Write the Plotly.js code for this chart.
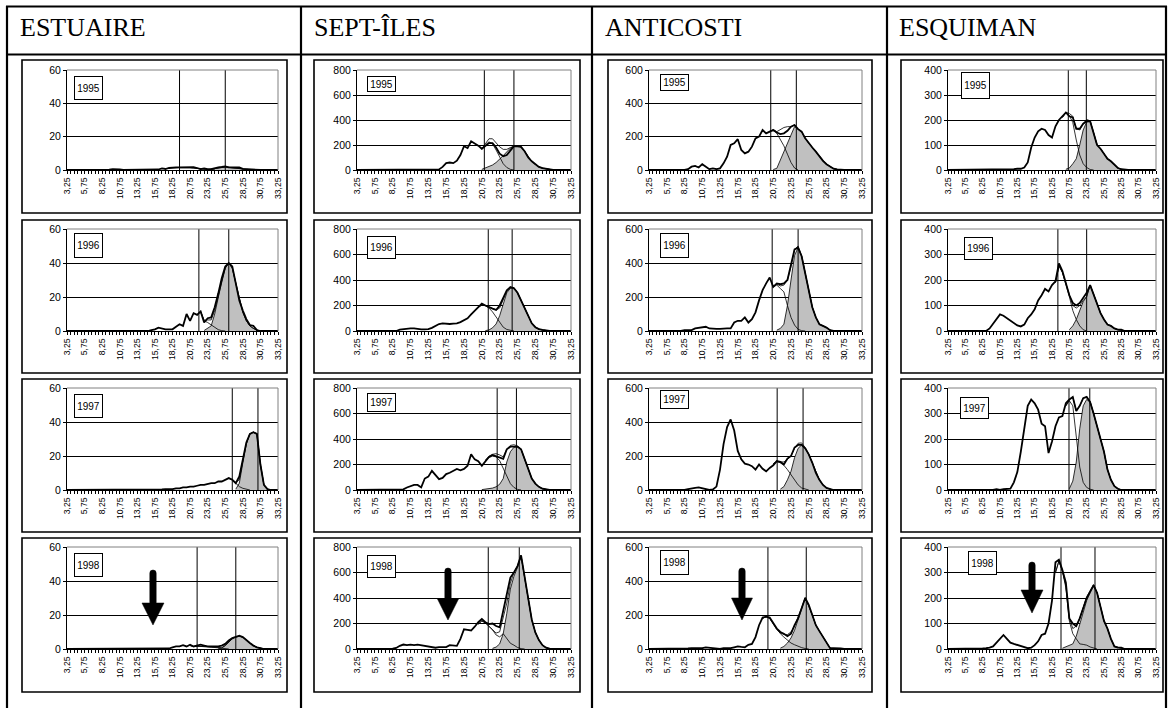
<!DOCTYPE html>
<html><head><meta charset="utf-8">
<script src="https://cdn.plot.ly/plotly-3.0.1.min.js"></script>
<style>html,body{margin:0;padding:0;background:#fff}#chart{width:1169px;height:708px}</style>
</head><body><div id="chart"></div>
<script>
// ---------- DATA ----------
const SIZE = [3.25,3.75,4.25,4.75,5.25,5.75,6.25,6.75,7.25,7.75,8.25,8.75,9.25,9.75,10.25,10.75,11.25,11.75,12.25,12.75,
  13.25,13.75,14.25,14.75,15.25,15.75,16.25,16.75,17.25,17.75,18.25,18.75,19.25,19.75,20.25,20.75,21.25,21.75,22.25,22.75,
  23.25,23.75,24.25,24.75,25.25,25.75,26.25,26.75,27.25,27.75,28.25,28.75,29.25,29.75,30.25,30.75,31.25,31.75,32.25,32.75,33.25];
const TICK_LABELS = ['3,25','5,75','8,25','10,75','13,25','15,75','18,25','20,75','23,25','25,75','28,25','30,75','33,25'];
const REGIONS = ['ESTUAIRE','SEPT-ÎLES','ANTICOSTI','ESQUIMAN'];
const YEARS = ['1995','1996','1997','1998'];
const Y_MAX = [60, 800, 600, 400];
const Y_STEP = [20, 200, 200, 100];

// observed totals (one value per SIZE class)
const est95 = [0,0,0,0,0,0,0,0,0,0, 0,0,0.2,0.5,0.5,0.3,0,0,0,0, 0,0,0,0,0,0,0.3,1,0.6,1.2, 1.5,1.5,1.6,1.6,1.6,1.6,1.7,1.2,0.5,1, 0.5,0.5,1.2,1.6,1.8,2.2,1.6,1.5,1.5,1.5, 0.7,0.5,0.5,0.4,0,0,0,0,0,0,0];
const est96 = [0,0,0,0,0,0,0,0,0,0, 0,0,0,0,0,0,0,0,0,0, 0,0,0,0,0.5,1,2,1.5,1,1, 1,2.5,4,3,10,6,10.5,9.5,11.5,5, 7.5,8,14,22,31,38,40,38,28,18, 12,7,3.5,3,0.5,0,0,0,0,0,0];
const est97 = [0,0,0,0,0,0,0,0,0,0, 0,0,0,0,0,0,0,0,0,0, 0,0,0,0,0,0,0,0.3,0.5,0.5, 0.5,1,1,1.5,1.5,2,2,2.5,3,3, 3.5,4,4,5,5,6,7,6,4,8, 18,28,33,34,33,15,3,0.5,0,0,0];
const est98 = [0,0,0,0,0,0,0,0,0,0, 0,0,0,0,0,0,0,0,0,0, 0,0,0,0,0,0,0,0,0,0.3, 1,1.5,1.5,2.3,1.5,2.5,1.5,2,2.5,2, 1.5,1.5,1.5,1.5,2,3,5,6.5,7.2,7.8, 7,5,3.5,2,1,0.5,0,0,0,0,0];
const sep95 = [0,0,0,0,0,0,0,0,0,0, 0,0,3,5,5,5,3,0,0,0, 0,0,2,5,25,55,60,55,75,120, 190,175,230,215,195,170,195,215,215,180, 130,110,120,160,190,190,185,150,100,70, 45,25,15,8,3,0,0,0,0,0,0];
const sep96 = [0,0,0,0,0,0,0,0,0,0, 0,0,10,15,18,20,20,15,12,12, 15,25,40,55,60,55,55,58,60,70, 85,100,130,160,190,215,200,185,175,165, 200,260,320,345,335,300,240,170,110,60, 30,15,8,3,0,0,0,0,0,0,0];
const sep97 = [0,0,0,0,0,0,0,0,0,0, 0,0,0,5,20,30,40,40,20,90, 105,150,120,85,95,125,135,150,165,155, 165,190,280,240,225,190,230,260,275,265, 255,245,320,340,340,340,320,240,160,90, 50,25,10,3,0,0,0,0,0,0,0];
const sep98 = [0,0,0,0,0,0,0,0,0,0, 3,8,25,35,30,35,30,35,30,25, 15,12,10,15,15,15,30,30,25,80, 155,150,145,175,210,235,210,195,200,180, 170,300,430,560,600,650,735,560,400,230, 130,70,30,10,2,0,0,0,0,0,0];
const ant95 = [0,0,0,0,0,0,0,0,0,0, 0,5,20,25,15,35,20,5,10,5, 10,40,80,150,160,185,120,100,110,140, 190,200,240,220,230,240,225,215,220,235, 260,270,245,230,190,160,135,110,80,55, 35,20,8,3,0,0,0,0,0,0,0];
const ant96 = [0,0,0,0,0,0,0,0,0,0, 5,5,5,15,18,20,25,15,12,12, 12,15,15,15,50,60,60,80,50,70, 110,180,240,280,315,260,280,275,280,300, 400,480,490,440,340,230,140,80,40,30, 20,5,0,0,0,0,0,0,0,0,0];
const ant97 = [0,0,0,0,0,0,0,0,0,0, 0,5,10,12,15,10,5,0,3,20, 120,270,370,415,350,230,180,155,150,140, 120,150,125,110,130,145,170,165,150,185, 200,250,265,265,245,210,160,100,60,30, 12,5,0,0,0,0,0,0,0,0,0];
const ant98 = [0,0,0,0,0,0,0,0,0,0, 3,3,5,5,5,5,10,8,3,3, 0,5,5,5,10,15,12,10,25,30, 70,140,185,190,185,155,120,100,90,75, 90,140,180,240,300,260,200,140,105,70, 35,5,5,5,3,0,0,0,0,0,0];
const esq95 = [0,0,0,0,0,0,0,0,0,0, 0,0,0,0,3,3,0,3,3,3, 5,5,10,30,90,130,155,165,160,140, 130,175,200,215,230,215,210,165,165,185, 195,195,150,100,85,65,45,35,20,8, 3,0,0,0,0,0,0,0,0,0,0];
const esq96 = [0,0,0,0,0,0,0,0,0,0, 0,0,10,30,45,65,60,50,40,30, 22,18,25,50,65,85,120,140,165,155, 180,195,265,235,190,140,110,100,110,130, 150,180,145,110,70,45,25,20,10,5, 5,0,0,0,0,0,0,0,0,0,0];
const esq97 = [0,0,0,0,0,0,0,0,0,0, 0,0,0,0,3,0,3,3,5,30, 70,150,240,330,355,340,315,260,250,145, 190,250,285,290,340,355,365,310,330,360, 365,345,300,250,200,150,80,40,15,5, 0,0,0,0,0,0,0,0,0,0,0];
const esq98 = [0,0,0,0,0,0,0,0,0,0, 2,3,5,10,25,40,55,40,25,20, 15,10,5,3,5,15,30,55,60,100, 190,340,350,310,260,120,100,90,120,160, 200,225,250,220,170,110,80,40,10,5, 5,0,0,0,0,0,0,0,0,0,0];

// first fitted component (thin line): first size class, values
const est95c1s = 19.25, est95c1 = [1.4,1.5,1.5,1.4,1.2,0.9,0.6,0.35,0.15,0.05,0];
const est96c1s = 22.25, est96c1 = [11.5,6,5,3.5,2,0.8,0.2,0];
const est97c1s = 26.25, est97c1 = [7,6,4,2,1,0.3,0];
const est98c1s = 20.75, est98c1 = [2,1.5,1.6,1.6,1.5,1.3,1.1,0.9,0.6,0.3,0.1,0];
const sep95c1s = 20.75, sep95c1 = [165,200,225,210,160,100,50,20,5,0];
const sep96c1s = 20.25, sep96c1 = [185,205,198,180,150,110,60,30,12,3,0];
const sep97c1s = 21.25, sep97c1 = [230,255,265,260,230,170,100,50,20,5,0];
const sep98c1s = 20.25, sep98c1 = [195,220,205,180,150,110,95,120,80,45,30,12,3,0];
const ant95c1s = 20.25, ant95c1 = [230,240,220,185,145,95,45,12,0];
const ant96c1s = 20.75, ant96c1 = [260,270,250,230,150,80,35,10,2,0];
const ant97c1s = 20.75, ant97c1 = [155,168,160,145,120,90,55,30,12,5,0];
const ant98c1s = 19.25, ant98c1 = [180,190,180,150,115,90,70,50,35,25,15,8,3,0];
const esq95c1s = 19.75, esq95c1 = [210,228,218,190,120,60,25,10,2,0];
const esq96c1s = 18.75, esq96c1 = [190,255,230,185,135,80,45,20,5,0];
const esq97c1s = 20.25, esq97c1 = [330,350,330,200,90,30,10,3,0];
const esq98c1s = 18.75, esq98c1 = [300,345,305,240,110,60,40,20,18,15,8,3,0];

// second fitted component (grey area): first size class, values
const est95c2s = 23.25, est95c2 = [0.1,0.4,0.9,1.4,1.7,1.8,1.6,1.3,1,0.7,0.4,0.2,0.1,0];
const est96c2s = 22.75, est96c2 = [0.3,1.5,3,10,20,29,37,40,37,28,19,11,6,3,1.5,0.5,0];
const est97c2s = 27.25, est97c2 = [0.5,4,16,27,33,34,33,15,3,0.5,0];
const est98c2s = 24.75, est98c2 = [0.2,0.5,2,4,6,7,7.5,7,5,3.5,2,1,0.5,0];
const sep95c2s = 20.75, sep95c2 = [5,15,25,40,60,85,115,145,175,190,192,185,150,105,70,45,25,15,8,3,0];
const sep96c2s = 21.25, sep96c2 = [3,8,25,55,120,220,300,335,340,300,240,170,110,60,30,15,8,3,0];
const sep97c2s = 20.75, sep97c2 = [3,5,10,15,25,45,90,220,300,335,340,320,240,160,90,50,25,10,3,0];
const sep98c2s = 22.25, sep98c2 = [5,15,40,120,280,470,570,640,730,560,400,230,130,70,30,10,2,0];
const ant95c2s = 20.75, ant95c2 = [3,10,60,110,165,215,260,245,230,190,160,135,110,80,55,35,20,8,3,0];
const ant96c2s = 21.25, ant96c2 = [5,15,40,150,300,445,490,440,340,230,140,80,40,30,20,5,0];
const ant97c2s = 21.75, ant97c2 = [5,20,60,110,190,245,265,245,210,160,100,60,30,12,5,0];
const ant98c2s = 21.75, ant98c2 = [5,15,35,65,110,170,235,300,255,200,140,105,70,35,5,0];
const esq95c2s = 20.25, esq95c2 = [3,8,25,45,100,160,192,195,150,100,85,65,45,35,20,8,3,0];
const esq96c2s = 20.75, esq96c2 = [5,20,45,80,115,135,180,145,110,70,45,25,20,10,5,3,0];
const esq97c2s = 20.75, esq97c2 = [5,35,110,240,330,355,345,300,250,200,150,80,40,15,5,0];
const esq98c2s = 19.75, esq98c2 = [3,8,12,20,50,100,145,190,220,250,220,170,110,80,40,10,5,3,0];

// vertical reference lines (size class) per panel
const estLines = [[19.25,25.75],[22.0,26.25],[26.75,30.4],[21.75,27.25]];
const sepLines = [[21.1,25.25],[21.65,25.0],[22.9,25.6],[21.65,26.0]];
const antLines = [[20.4,24.0],[20.6,24.25],[21.3,24.95],[20.0,25.4]];
const esqLines = [[20.6,23.2],[19.1,23.25],[20.7,23.7],[19.55,24.45]];

// ---------- assembly ----------
const TOTALS = [[est95,est96,est97,est98],[sep95,sep96,sep97,sep98],[ant95,ant96,ant97,ant98],[esq95,esq96,esq97,esq98]];
const C1 = [[[est95c1s,est95c1],[est96c1s,est96c1],[est97c1s,est97c1],[est98c1s,est98c1]],
            [[sep95c1s,sep95c1],[sep96c1s,sep96c1],[sep97c1s,sep97c1],[sep98c1s,sep98c1]],
            [[ant95c1s,ant95c1],[ant96c1s,ant96c1],[ant97c1s,ant97c1],[ant98c1s,ant98c1]],
            [[esq95c1s,esq95c1],[esq96c1s,esq96c1],[esq97c1s,esq97c1],[esq98c1s,esq98c1]]];
const C2 = [[[est95c2s,est95c2],[est96c2s,est96c2],[est97c2s,est97c2],[est98c2s,est98c2]],
            [[sep95c2s,sep95c2],[sep96c2s,sep96c2],[sep97c2s,sep97c2],[sep98c2s,sep98c2]],
            [[ant95c2s,ant95c2],[ant96c2s,ant96c2],[ant97c2s,ant97c2],[ant98c2s,ant98c2]],
            [[esq95c2s,esq95c2],[esq96c2s,esq96c2],[esq97c2s,esq97c2],[esq98c2s,esq98c2]]];
const LINES = [estLines, sepLines, antLines, esqLines];

const W = 1169, H = 708;
const px = x => x / W, py = y => 1 - y / H;
const colPlot = [[67,278],[357,571],[649,862],[948,1156]];
const rowPlot = [[70,170],[229,331],[388,490],[547,649]];
const colFrame = [[22,287],[314,580],[608,872],[901,1163]];
const rowFrame = [[60,213],[220,373],[379,532],[538,692]];
const yearBoxX = [[74,74,74,74],[367,367,367,367],[660,660,660,660],[961,964,960,968]];
const yearBoxTop = [[76,233,394,553],[76,236,393,555],[74,233,390,550],[72,237,397,551]];
const yearBoxH = [[22,23,22,22],[14,21,17,21],[15,23,17,23],[25,21,20,22]];
const arrows = [{cx:153,top:570,base:603,tip:625,hw:11},{cx:448,top:568,base:599,tip:620,hw:10.5},
                {cx:742,top:568,base:598,tip:620,hw:10.5},{cx:1032,top:562,base:590,tip:613,hw:11}];

const FONT = '"Liberation Sans", Arial, sans-serif';
const tickText = SIZE.map((s,i) => i % 5 === 0 ? TICK_LABELS[i/5] : '');

const traces = [], shapes = [], annotations = [];
const layout = {width: W, height: H, margin: {l:0,r:0,t:0,b:0,pad:0}, showlegend: false,
  paper_bgcolor: '#fff', plot_bgcolor: '#fff', font: {family: FONT, color: '#000'}};

function seg(start, vals) {
  const i0 = SIZE.indexOf(start);
  return {x: SIZE.slice(i0, i0 + vals.length), y: vals, i0: i0};
}

for (let c = 0; c < 4; c++) {
  for (let r = 0; r < 4; r++) {
    const k = r * 4 + c + 1;
    const xa = k === 1 ? 'x' : 'x' + k, ya = k === 1 ? 'y' : 'y' + k;
    const xk = k === 1 ? 'xaxis' : 'xaxis' + k, yk = k === 1 ? 'yaxis' : 'yaxis' + k;
    const [l, rr] = colPlot[c], [t, b] = rowPlot[r];
    layout[xk] = {domain: [px(l), px(rr)], anchor: ya, range: [3.25, 33.25], tickmode: 'array',
      tickvals: SIZE, ticktext: tickText, tickangle: -90, ticks: 'outside', ticklen: 3, tickwidth: 1,
      tickcolor: '#000', showline: true, linecolor: '#000', linewidth: 1, showgrid: false, zeroline: false,
      tickfont: {family: FONT, size: 8.6, color: '#000'}, fixedrange: true};
    const yt = [];
    for (let v = 0; v <= Y_MAX[c]; v += Y_STEP[c]) yt.push(v);
    layout[yk] = {domain: [py(b), py(t)], anchor: xa, range: [0, Y_MAX[c]], tickmode: 'array', tickvals: yt,
      ticks: 'outside', ticklen: 3, tickcolor: '#000', showline: true, linecolor: '#000', linewidth: 1,
      showgrid: true, gridcolor: '#000', gridwidth: 1, zeroline: false,
      tickfont: {family: FONT, size: 10.5, color: '#000'}, fixedrange: true};

    const c1 = seg(C1[c][r][0], C1[c][r][1]);
    const c2 = seg(C2[c][r][0], C2[c][r][1]);
    // grey component
    traces.push({x: c2.x, y: c2.y, xaxis: xa, yaxis: ya, type: 'scatter', mode: 'lines', fill: 'tozeroy',
      fillcolor: '#c0c0c0', line: {color: '#000', width: 0.8}, hoverinfo: 'skip'});
    // first component
    traces.push({x: c1.x, y: c1.y, xaxis: xa, yaxis: ya, type: 'scatter', mode: 'lines',
      line: {color: '#000', width: 0.8}, hoverinfo: 'skip'});
    // fitted sum of the two components
    const fx = [], fy = [];
    const hi = Math.max(c1.i0 + c1.y.length, c2.i0 + c2.y.length);
    for (let i = c1.i0; i < hi; i++) {
      const a = (i >= c1.i0 && i < c1.i0 + c1.y.length) ? c1.y[i - c1.i0] : 0;
      const bb = (i >= c2.i0 && i < c2.i0 + c2.y.length) ? c2.y[i - c2.i0] : 0;
      fx.push(SIZE[i]); fy.push(a + bb);
    }
    traces.push({x: fx, y: fy, xaxis: xa, yaxis: ya, type: 'scatter', mode: 'lines',
      line: {color: '#000', width: 0.8}, hoverinfo: 'skip'});
    // observed total
    traces.push({x: SIZE, y: TOTALS[c][r], xaxis: xa, yaxis: ya, type: 'scatter', mode: 'lines',
      line: {color: '#000', width: 1.8}, hoverinfo: 'skip'});

    // vertical reference lines
    LINES[c][r].forEach(v => shapes.push({type: 'line', xref: xa, yref: ya + ' domain', x0: v, x1: v, y0: 0, y1: 1,
      line: {color: '#000', width: 1}, layer: 'above'}));
    // plot area border (grey top/right)
    shapes.push({type: 'line', xref: 'paper', yref: 'paper', x0: px(l), x1: px(rr), y0: py(t), y1: py(t), line: {color: '#808080', width: 1}, layer: 'above'});
    shapes.push({type: 'line', xref: 'paper', yref: 'paper', x0: px(rr), x1: px(rr), y0: py(t), y1: py(b), line: {color: '#808080', width: 1}, layer: 'above'});
    // chart frame
    shapes.push({type: 'rect', xref: 'paper', yref: 'paper', x0: px(colFrame[c][0]), x1: px(colFrame[c][1]),
      y0: py(rowFrame[r][1]), y1: py(rowFrame[r][0]), line: {color: '#000', width: 1.6}, layer: 'above'});
    // year box
    annotations.push({xref: 'paper', yref: 'paper', x: px(yearBoxX[c][r]), y: py(yearBoxTop[c][r]), xanchor: 'left', yanchor: 'top',
      text: YEARS[r], showarrow: false, width: 27, height: yearBoxH[c][r], borderpad: 0, bordercolor: '#000', borderwidth: 1,
      bgcolor: '#fff', align: 'center', valign: 'middle', font: {family: FONT, size: 10, color: '#000'}});
  }
  // header
  annotations.push({xref: 'paper', yref: 'paper', x: px([18, 312, 603, 897][c]), y: py(28), xanchor: 'left', yanchor: 'middle',
    text: REGIONS[c], showarrow: false, font: {family: '"Liberation Serif", "Times New Roman", serif', size: 26, color: '#000'}});
  // arrow in 1998 panel
  const a = arrows[c];
  const sw = 3.2;
  const P = (x, y) => px(x).toFixed(5) + ',' + py(y).toFixed(5);
  shapes.push({type: 'path', xref: 'paper', yref: 'paper', fillcolor: '#000', line: {color: '#000', width: 0.5}, layer: 'above',
    path: 'M' + P(a.cx - sw, a.base) + ' L' + P(a.cx - sw, a.top + sw) + ' Q' + P(a.cx - sw, a.top) + ' ' + P(a.cx, a.top) +
          ' Q' + P(a.cx + sw, a.top) + ' ' + P(a.cx + sw, a.top + sw) + ' L' + P(a.cx + sw, a.base) + ' L' + P(a.cx + a.hw, a.base) +
          ' L' + P(a.cx, a.tip) + ' L' + P(a.cx - a.hw, a.base) + ' Z'});
}

// table rules
const tl = {color: '#000', width: 2.2};
[7, 301, 592, 887, 1166].forEach(x => shapes.push({type: 'line', xref: 'paper', yref: 'paper', x0: px(x), x1: px(x), y0: py(6), y1: py(708), line: tl, layer: 'above'}));
[6.5, 54.5].forEach(y => shapes.push({type: 'line', xref: 'paper', yref: 'paper', x0: px(6), x1: px(1167), y0: py(y), y1: py(y), line: tl, layer: 'above'}));

layout.shapes = shapes;
layout.annotations = annotations;
Plotly.newPlot('chart', traces, layout, {staticPlot: true, displayModeBar: false});
</script>
</body></html>
